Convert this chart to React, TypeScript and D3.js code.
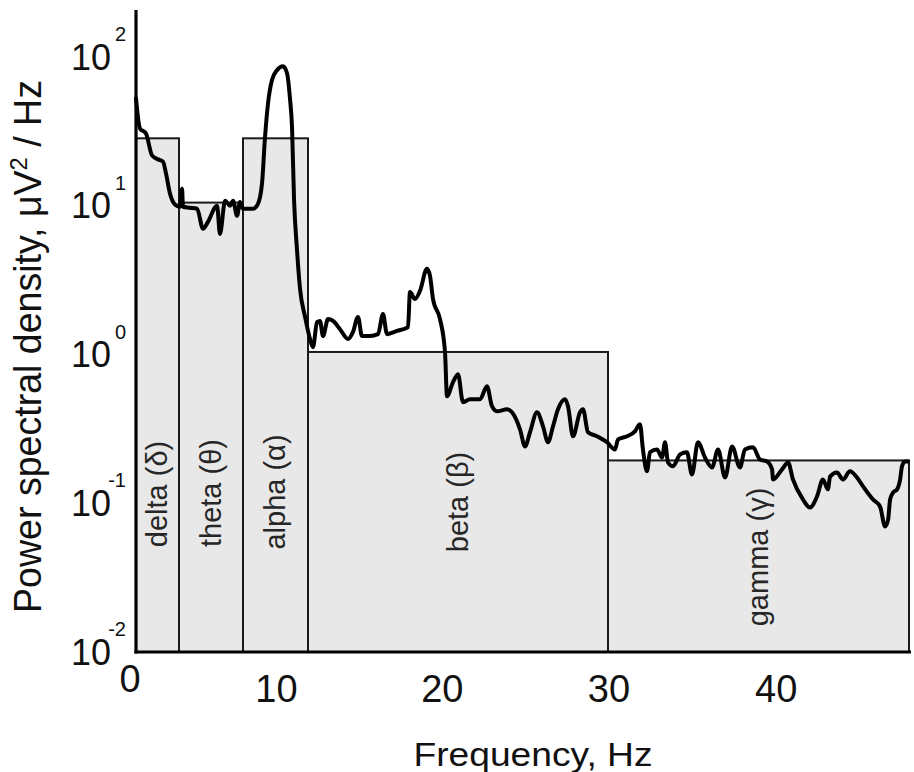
import React from "react";
import * as d3 from "d3";

// ---- data ----
const bandNames = ["delta (δ)", "theta (θ)", "alpha (α)", "beta (β)", "gamma (γ)"];
const bandStartHz = [0, 4, 8, 12, 30];
const bandEndHz = [4, 8, 12, 30, 48];
const bandMeanPower = [28.4, 10.5, 28.4, 1.04, 0.194];

const freqHz = [
  0, 0.37, 0.93, 1.49, 2.05, 2.51, 2.79, 3.16, 3.63, 4.06,
  4.19, 4.25, 4.69, 5.13, 5.5, 5.81, 6.38, 6.56, 6.88, 7.19,
  7.38, 7.63, 7.81, 8.0, 8.62, 8.92, 9.17, 9.35, 9.54, 9.78,
  10.09, 10.46, 10.71, 10.89, 11.02, 11.14, 11.32, 11.51, 11.82, 12.12,
  12.3, 12.54, 12.72, 12.9, 13.2, 13.5, 13.92, 14.4, 14.7, 15.0,
  15.24, 15.72, 16.2, 16.5, 16.74, 17.34, 18.0, 18.12, 18.42, 18.72,
  19.14, 19.32, 19.5, 19.92, 20.22, 20.34, 20.7, 21.0, 21.3, 21.72,
  22.32, 22.74, 23.04, 23.34, 23.94, 24.24, 24.72, 25.02, 25.32, 25.74,
  26.1, 26.4, 26.7, 27.0, 27.42, 27.6, 27.9, 28.32, 28.5, 28.8,
  29.34, 29.94, 30.42, 30.6, 31.14, 31.61, 31.91, 32.09, 32.33, 32.51,
  32.93, 33.23, 33.41, 33.59, 33.89, 34.31, 34.72, 35.02, 35.38, 35.8,
  36.22, 36.58, 37.0, 37.42, 37.89, 38.19, 38.67, 39.09, 39.51, 39.81,
  39.87, 40.41, 40.77, 41.06, 41.66, 42.08, 42.5, 42.85, 43.15, 43.28,
  43.69, 44.05, 44.47, 44.89, 45.25, 45.85, 46.27, 46.57, 46.75, 46.87,
  47.05, 47.29, 47.47, 47.58, 47.76, 47.94,
];

const psd = [
  52.7, 33.1, 30.6, 21.8, 20.5, 19.8, 16.5, 12.1, 10.2, 9.85,
  13.0, 9.85, 9.7, 9.55, 7.0, 7.8, 10.0, 6.47, 10.8, 10.0,
  10.8, 8.56, 10.6, 9.55, 9.55, 10.3, 14.1, 28.4, 48.8, 69.8,
  81.5, 86.7, 77.8, 52.7, 33.1, 11.1, 5.13, 2.76, 1.79, 1.27,
  1.12, 1.65, 1.68, 1.33, 1.73, 1.68, 1.48, 1.27, 1.42, 1.79,
  1.33, 1.33, 1.37, 1.87, 1.37, 1.44, 1.53, 2.63, 2.36, 2.68,
  3.77, 3.38, 2.36, 1.73, 1.04, 0.524, 0.652, 0.738, 0.478, 0.5,
  0.5, 0.612, 0.449, 0.415, 0.428, 0.409, 0.314, 0.241, 0.3, 0.409,
  0.329, 0.257, 0.329, 0.428, 0.5, 0.449, 0.282, 0.409, 0.428, 0.3,
  0.282, 0.257, 0.23, 0.269, 0.282, 0.304, 0.34, 0.23, 0.164, 0.22,
  0.23, 0.203, 0.257, 0.188, 0.177, 0.213, 0.22, 0.156, 0.257, 0.203,
  0.174, 0.23, 0.149, 0.241, 0.174, 0.23, 0.238, 0.197, 0.191, 0.169,
  0.1445, 0.169, 0.188, 0.1445, 0.106, 0.0935, 0.111, 0.1445, 0.124, 0.151,
  0.161, 0.1445, 0.164, 0.149, 0.13, 0.106, 0.095, 0.0697, 0.0776, 0.106,
  0.118, 0.124, 0.1445, 0.177, 0.191, 0.191,
];

const xTicks = [0, 10, 20, 30, 40];
const yTickExponents = [-2, -1, 0, 1, 2];

const xTitle = "Frequency, Hz";

// ---- layout ----
const W = 914;
const H = 772;
const FONT = "'Liberation Sans', Arial, Helvetica, sans-serif";
const labelCenterY = [494, 493, 492, 502, 557];

export default function App() {
  const x = d3
    .scaleLinear()
    .domain([bandStartHz[0], ...bandEndHz])
    .range([136, 179, 243, 308, 608, 909]);
  const y = d3.scaleLog().domain([0.01, 207]).range([652, 10]);

  const line = d3
    .line<number>()
    .x((_, i) => x(freqHz[i]))
    .y((d) => y(d))
    .curve(d3.curveMonotoneX);

  const base = y(0.01);

  return (
    <svg
      width={W}
      height={H}
      style={{ position: "absolute", left: 0, top: 0, background: "#fff" }}
      fontFamily={FONT}
    >
      <rect x={0} y={0} width={W} height={H} fill="#fff" />
      {/* bands */}
      {bandNames.map((name, i) => {
        const x0 = x(bandStartHz[i]);
        const x1 = x(bandEndHz[i]);
        const yt = y(bandMeanPower[i]);
        return (
          <rect
            key={name}
            x={x0}
            y={yt}
            width={x1 - x0}
            height={base - yt}
            fill="#e8e8e8"
            stroke="#1a1a1a"
            strokeWidth={2}
          />
        );
      })}
      {bandNames.map((name, i) => {
        const cx = (x(bandStartHz[i]) + x(bandEndHz[i])) / 2 + 9.5;
        const cy = labelCenterY[i];
        return (
          <text
            key={"l" + name}
            transform={`translate(${cx},${cy}) rotate(-90)`}
            textAnchor="middle"
            fontSize={29}
            fill="#262626"
          >
            {name}
          </text>
        );
      })}
      {/* curve */}
      <path
        d={line(psd) || ""}
        fill="none"
        stroke="#000"
        strokeWidth={4}
        strokeLinejoin="round"
        strokeLinecap="round"
      />
      {/* axes */}
      <line x1={x(0)} x2={x(0)} y1={y(207)} y2={base + 1.5} stroke="#000" strokeWidth={3.2} />
      <line x1={x(0) - 1.5} x2={x(48) + 2} y1={base} y2={base} stroke="#000" strokeWidth={3.2} />
      {/* x ticks */}
      {xTicks.map((t) => (
        <text
          key={"xt" + t}
          x={x(t) + (t === 0 ? -6 : 1)}
          y={t === 0 ? 692 : 702}
          textAnchor="middle"
          fontSize={38}
          fill="#111"
        >
          {t}
        </text>
      ))}
      {/* y ticks */}
      {yTickExponents.map((e) => {
        const yy = y(Math.pow(10, e));
        return (
          <g key={"yt" + e} fill="#111">
            <text x={111} y={yy + 12.5} textAnchor="end" fontSize={36}>
              10
            </text>
            <text x={126} y={yy - 16} textAnchor="end" fontSize={20}>
              {e < 0 ? "-" + Math.abs(e) : String(e)}
            </text>
          </g>
        );
      })}
      {/* axis titles */}
      <text
        x={533}
        y={766}
        textAnchor="middle"
        fontSize={34}
        textLength={239}
        lengthAdjust="spacingAndGlyphs"
        fill="#111"
      >
        {xTitle}
      </text>
      <text
        transform="translate(41,346.5) rotate(-90)"
        textAnchor="middle"
        fontSize={38}
        textLength={533}
        lengthAdjust="spacingAndGlyphs"
        fill="#111"
      >
        Power spectral density, μV
        <tspan fontSize={24} dy={-14}>2</tspan>
        <tspan dy={14}> / Hz</tspan>
      </text>
    </svg>
  );
}
